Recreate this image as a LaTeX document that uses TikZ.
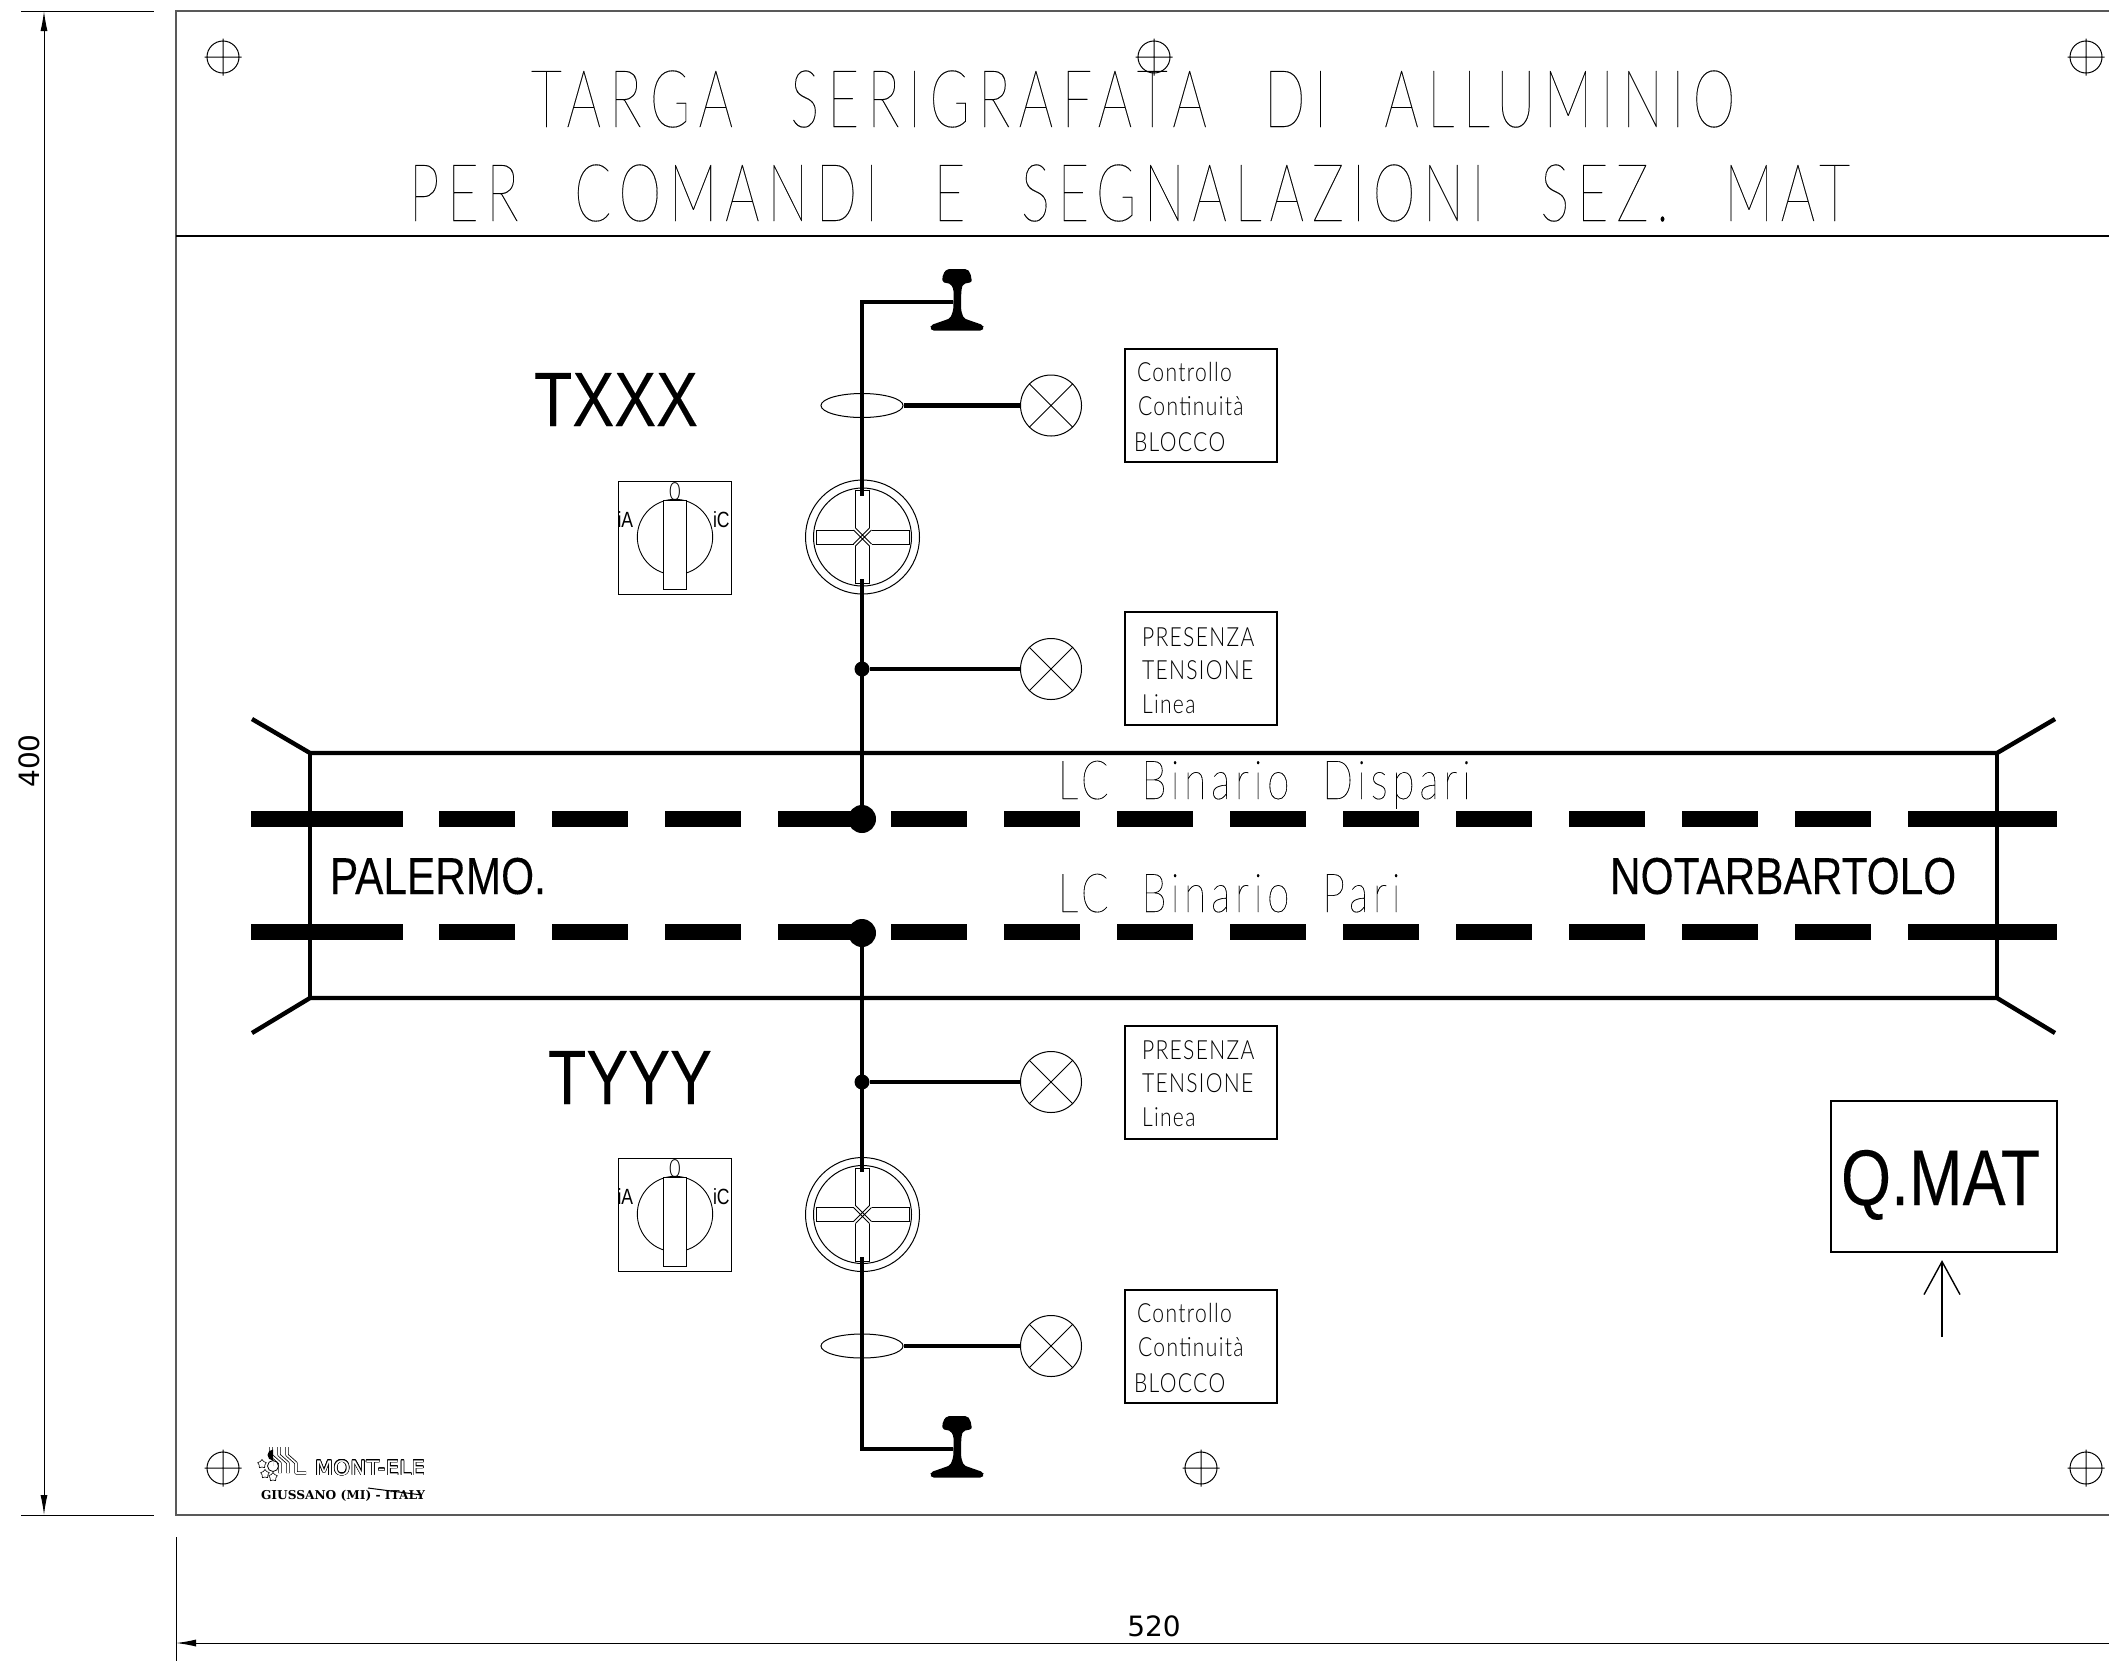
\documentclass[tikz,border=0pt]{standalone}
\usepackage{fontspec}
\usepackage[copies]{contour}
\usetikzlibrary{arrows.meta,shapes.geometric}
\setmainfont{Liberation Sans}
\newfontfamily\plaquefont[FakeStretch=0.815,FakeBold=0.15]{Liberation Sans}
\newfontfamily\selfont[FakeStretch=0.8]{Liberation Sans}
\newfontfamily\titlefont[FakeStretch=0.68,LetterSpace=10.4,WordSpace=2.4,FakeBold=0.15]{Lato Thin}
\newfontfamily\titlefontb[FakeStretch=0.68,LetterSpace=9.6,WordSpace=2.4,FakeBold=0.15]{Lato Thin}
\newfontfamily\railfont[FakeStretch=0.75,LetterSpace=9,WordSpace=2,FakeBold=0.2]{Lato Thin}
\newfontfamily\smallfont[FakeStretch=0.8,LetterSpace=5]{Lato Light}
\newfontfamily\dimfont{DejaVu Sans}
\newfontfamily\logofont[FakeStretch=1.05,LetterSpace=2]{DejaVu Sans}
\newfontfamily\townfont{DejaVu Serif}
\contourlength{.3pt}

% one drawing unit is one pixel of the plate
\newcommand{\railhead}[2]{
\fill[shift={(#1,#2)}, rounded corners=1pt] (-14,5) -- (-10,0) -- (10,0) -- (13.3,3.7) -- (15,13) -- (6,15) -- (4.3,21) -- (4,41) -- (6.7,49.3) -- (20,54) -- (26,56) -- (27,59) -- (25,61.7) -- (-25,61.7) -- (-27,59) -- (-26,56) -- (-20,54) -- (-6.7,49.3) -- (-3.7,41) -- (-3.3,21) -- (-6,15) -- (-15,13) -- cycle;
}
\newcommand{\crossblade}[2]{
\draw[shift={(#1,#2)}, fill=white, line width=.5pt] (0,0) circle [radius=57] (0,0) circle [radius=49];
\draw[shift={(#1,#2)}, line width=.5pt] (-7,-9) -- (-7,-46.5) -- (7,-46.5) -- (7,-9);
\draw[shift={(#1,#2)}, line width=.5pt] (-7,9) -- (-7,46.5) -- (7,46.5) -- (7,9);
\draw[shift={(#1,#2)}, line width=.5pt] (-9,-7) -- (-46.5,-7) -- (-46.5,7) -- (-9,7);
\draw[shift={(#1,#2)}, line width=.5pt] (9,-7) -- (46.5,-7) -- (46.5,7) -- (9,7);
\draw[shift={(#1,#2)}, line width=.5pt] (-7,-9) -- (9,7) (-9,-7) -- (7,9) (7,-9) -- (-9,7) (9,-7) -- (-7,9);
}
\newcommand{\selector}[2]{
\draw[shift={(#1,#2)}, line width=.45pt] (-57,-56) rectangle (56,57);
\draw[shift={(#1,#2)}, line width=.45pt] (0,0) circle [radius=37.7];
\draw[shift={(#1,#2)}, line width=.45pt, fill=white] (-12,-36.5) rectangle (11,52);
\node[labeltext, anchor=base] at (#1,#2-37) {\smallfont\fontsize{12.5}{12.5}\selectfont 0};
\node[labeltext, anchor=base west] at (#1-57.5,#2-10) {\selfont\fontsize{11}{11}\selectfont iA};
\node[labeltext, anchor=base west] at (#1+38,#2-10) {\selfont\fontsize{11}{11}\selectfont iC};
}
\newcommand{\mountinghole}[2]{
\draw[line width=.5pt] (#1,#2) circle [radius=16] (#1-18.5,#2) -- (#1+18.5,#2) (#1,#2-18.5) -- (#1,#2+18.5);
}
\tikzset{
labeltext/.style={inner sep=0pt, outer sep=0pt},
}

\begin{document}
\begin{tikzpicture}[x=.5pt, y=-.5pt]
\tikzstyle{wire}=[line width=2.2pt]
\tikzstyle{hair}=[line width=.5pt]
\tikzstyle{frameline}=[line width=.8pt, black!65]
\tikzstyle{track}=[line width=2.2pt]
\tikzstyle{sleeper}=[line width=8pt]
\tikzstyle{lamp}=[shape=circle, draw, line width=.5pt, minimum size=30.5pt, inner sep=0pt,
  path picture={\draw[line width=.5pt] (path picture bounding box.north west) -- (path picture bounding box.south east) (path picture bounding box.north east) -- (path picture bounding box.south west);}]
\tikzstyle{toroid}=[shape=ellipse, draw, line width=.5pt, minimum width=41pt, minimum height=12pt, inner sep=0pt]
\tikzstyle{junction}=[shape=circle, fill, minimum size=7.5pt, inner sep=0pt]
\tikzstyle{bigdot}=[shape=circle, fill, minimum size=14pt, inner sep=0pt]
\tikzstyle{legend}=[shape=rectangle, draw, line width=1.1pt, minimum width=76pt, minimum height=56.5pt]
\tikzstyle{small}=[labeltext, anchor=base west, font=\smallfont\fontsize{13.2}{13.2}\selectfont]
\tikzstyle{heading}=[labeltext, anchor=base west]
\tikzstyle{railtext}=[labeltext, anchor=base west, font=\railfont\fontsize{27}{27}\selectfont]
\tikzstyle{station}=[labeltext, anchor=base west, font=\plaquefont\fontsize{26}{26}\selectfont]
\tikzstyle{tvname}=[labeltext, anchor=base west, font=\plaquefont\fontsize{38.5}{38.5}\selectfont]
\tikzstyle{dimarrow}=[hair, {Latex[length=10pt,width=3.5pt]}-{Latex[length=10pt,width=3.5pt]}]
\useasboundingbox (0,0) rectangle (2109,1661);

% plate
\draw[frameline] (2109,11) -- (176,11) -- (176,1515) -- (2109,1515);
\draw[line width=.6pt] (176,236) -- (2109,236);
\node[heading, font=\titlefont\fontsize{40}{40}\selectfont] (title1) at (531,127) {TARGA SERIGRAFATA DI ALLUMINIO};
\node[heading, font=\titlefontb\fontsize{40}{40}\selectfont] (title2) at (409,221) {PER COMANDI E SEGNALAZIONI SEZ. MAT};
\mountinghole{223}{57}
\mountinghole{1154}{57}
\mountinghole{2086}{57}
\mountinghole{223}{1468}
\mountinghole{1201}{1468}
\mountinghole{2086}{1468}

% dimensions
\coordinate (dimVtop) at (44,11);
\coordinate (dimVbot) at (44,1515);
\coordinate (dimHleft) at (176,1643);
\coordinate (dimHright) at (2109,1643);
\draw[hair] (21,11) -- (154,11);
\draw[hair] (21,1515) -- (154,1515);
\draw[hair] (176,1537) -- (176,1661);
\draw[dimarrow] (dimVtop) -- (dimVbot);
\draw[hair, {Latex[length=10pt,width=3.5pt]}-] (dimHleft) -- (dimHright);
\node[labeltext, rotate=90, font=\dimfont\fontsize{14}{14}\selectfont] (dimV) at (29,761) {400};
\node[labeltext, font=\dimfont\fontsize{14}{14}\selectfont] (dimH) at (1154,1626) {520};

% tracks
\draw[track] (252,719) -- (310,753) -- (1997,753) -- (2055,719);
\draw[track] (252,1033) -- (310,998) -- (1997,998) -- (2055,1033);
\draw[track] (310,753) -- (310,998);
\draw[track] (1997,753) -- (1997,998);
\foreach \y in {819,932} {
\draw[sleeper] (251,\y) -- (403,\y);
\foreach \i in {0,...,12}
  \draw[sleeper] (439+113*\i,\y) -- (515+113*\i,\y);
\draw[sleeper] (1908,\y) -- (2057,\y);
}
\node[railtext] (binD) at (1058,799) {LC Binario Dispari};
\node[railtext] (binP) at (1058,912) {LC Binario Pari};
\node[station] (pal) at (330,894) {PALERMO.};
\node[station] (not) at (1610,894) {NOTARBARTOLO};

% upper feeder
\node[bigdot] (dotA) at (862,819) {};
\node[junction] (juncA) at (862,669) {};
\node[toroid] (torA) at (862,405.5) {};
\node[lamp] (lampA) at (1051,405.5) {};
\node[lamp] (lampB) at (1051,669) {};
\coordinate (railA) at (953,302);
\coordinate (cornerA) at (862,302);
\coordinate (swAtop) at (862,496);
\coordinate (swAbot) at (862,579);
\crossblade{862.5}{537}
\selector{675}{537}
\draw[wire, line join=miter] (railA) -- (cornerA) -- (swAtop);
\draw[wire] (swAbot) -- (dotA);
\draw[wire] (torA.east) -- (lampA.west);
\draw[wire] (juncA) -- (lampB.west);
\railhead{957}{269}
\node[tvname] (tvA) at (534,426) {TXXX};
\node[legend] (legA) at (1201,405.5) {};
\node[small] at (1137,381) {Controllo};
\node[small] at (1138,415) {Continuità};
\node[small] at (1134,451) {BLOCCO};
\node[legend] (legB) at (1201,668.5) {};
\node[small] at (1142,646) {PRESENZA};
\node[small] at (1142,679) {TENSIONE};
\node[small] at (1142,713) {Linea};

% lower feeder
\node[bigdot] (dotB) at (862,933) {};
\node[junction] (juncB) at (862,1082) {};
\node[toroid] (torB) at (862,1346) {};
\node[lamp] (lampC) at (1051,1082) {};
\node[lamp] (lampD) at (1051,1346) {};
\coordinate (railB) at (953,1449);
\coordinate (cornerB) at (862,1449);
\coordinate (swBtop) at (862,1172);
\coordinate (swBbot) at (862,1257);
\crossblade{862.5}{1214.5}
\selector{675}{1214}
\draw[wire] (dotB) -- (swBtop);
\draw[wire, line join=miter] (swBbot) -- (cornerB) -- (railB);
\draw[wire] (juncB) -- (lampC.west);
\draw[wire] (torB.east) -- (lampD.west);
\railhead{957}{1416}
\node[tvname] (tvB) at (548,1104) {TYYY};
\node[legend] (legC) at (1201,1082.5) {};
\node[small] at (1142,1059) {PRESENZA};
\node[small] at (1142,1092) {TENSIONE};
\node[small] at (1142,1126) {Linea};
\node[legend] (legD) at (1201,1346.5) {};
\node[small] at (1137,1322) {Controllo};
\node[small] at (1138,1356) {Continuità};
\node[small] at (1134,1392) {BLOCCO};

% panel tag
\node[shape=rectangle, draw, line width=1.1pt, minimum width=113pt, minimum height=75.5pt] (qmat) at (1944,1176.5) {};
\node[tvname, font=\plaquefont\fontsize{39.5}{39.5}\selectfont] (qmatText) at (1841,1205) {Q.MAT};
\coordinate (qmatIn) at (1942,1337);
\draw[line width=.7pt, shorten >=3.5pt, -{Straight Barb[length=16.5pt,width=18pt,line width=.7pt]}] (qmatIn) -- (qmat.south -| qmatIn);

% maker mark
\foreach \x in {271,279}
  \draw[double, double distance=.8pt, line width=.4pt, line join=round] (\x,1447) -- (\x,1455) -- (\x+9,1463) -- (\x+9,1473);
\draw[double, double distance=.8pt, line width=.4pt, line join=round] (287,1447) -- (287,1455) -- (296,1463) -- (296,1473) -- (306,1473);
\draw[line width=.4pt, fill=white] (273,1466) circle [radius=5.5];
\fill (273,1466) -- (273,1460.5) arc [start angle=90, end angle=270, radius=5.5] -- cycle;
\foreach \x/\y in {262/1464,265/1474,273/1477}
  \node[shape=star, star points=5, draw, line width=.3pt, minimum size=4.5pt, inner sep=0pt] at (\x,\y) {};
\node[labeltext, anchor=base west, font=\logofont\fontsize{10}{10}\selectfont] (mark) at (315,1475) {\contour{black}{\textcolor{white}{MONT-ELE}}};
\node[labeltext, anchor=base west, font=\townfont\bfseries\fontsize{6.1}{6.1}\selectfont] (town) at (261,1499) {GIUSSANO (MI) - ITALY};
\draw[line width=.5pt] (368,1488) -- (422,1495);
\end{tikzpicture}
\end{document}
